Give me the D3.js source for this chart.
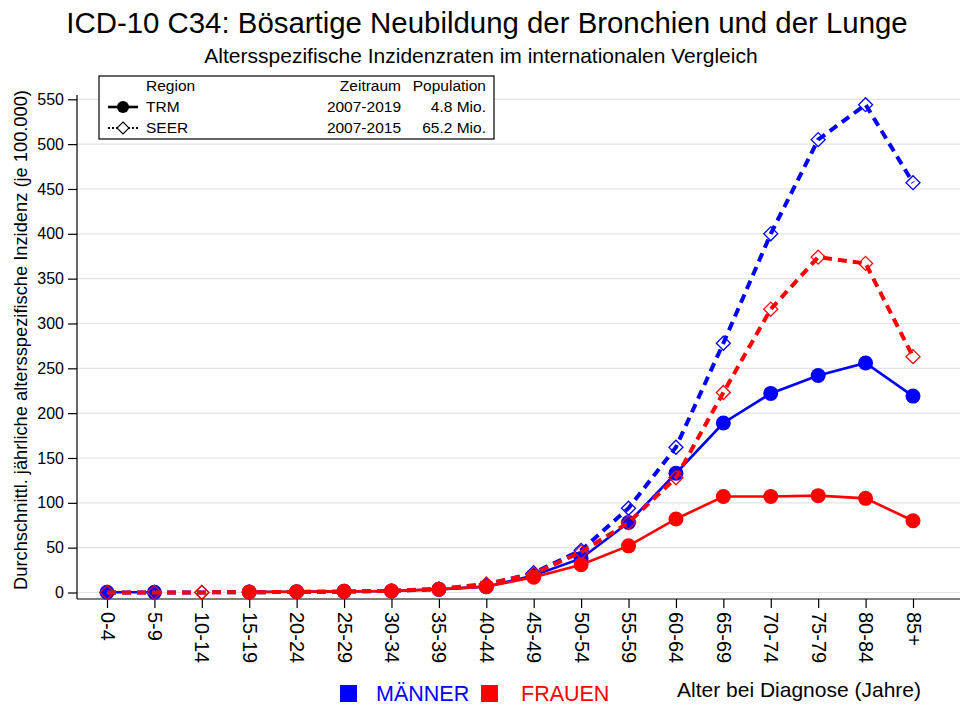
<!DOCTYPE html>
<html>
<head>
<meta charset="utf-8">
<script src="https://cdn.jsdelivr.net/npm/d3@7"></script>
<style>
  body { margin: 0; background: #fff; }
  svg { display: block; font-family: Arial, "Liberation Sans", sans-serif; }
</style>
</head>
<body>
<svg id="chart" width="960" height="709"></svg>
<script>
const ageGroups = ['0-4', '5-9', '10-14', '15-19', '20-24', '25-29', '30-34', '35-39', '40-44',
  '45-49', '50-54', '55-59', '60-64', '65-69', '70-74', '75-79', '80-84', '85+'];
const yTicks = [0, 50, 100, 150, 200, 250, 300, 350, 400, 450, 500, 550];

// TRM (solid, circles)
const trmMaenner = [0.3, 0.3, null, 0.5, 0.9, 1.3, 1.7, 3.5, 6.5, 19, 38, 78, 133, 189, 222, 242, 256, 219];
const trmFrauen = [null, null, null, 0.5, 0.9, 1.3, 1.7, 3.6, 6.5, 17, 31, 52, 82, 107, 107, 108, 105, 80];
// SEER (dashed, diamonds)
const seerMaenner = [0.1, 0.1, 0.1, 0.3, 0.6, 1.0, 1.8, 3.8, 8.5, 22, 47, 94, 162, 278, 400, 505, 544, 457];
const seerFrauen = [0.1, 0.1, 0.1, 0.3, 0.6, 1.1, 1.9, 4.0, 9.5, 21, 45, 78, 128, 223, 316, 374, 367, 263];

const BLUE = '#0000ff', RED = '#ff0000';

const svg = d3.select('#chart');
const margin = { left: 77, right: 0, top: 95, bottom: 599 };

const x = d3.scalePoint().domain(ageGroups).range([107, 913]);
const y = d3.scaleLinear().domain([0, 550]).range([592.5, 99.3]);

// grid
svg.append('g').selectAll('line').data(yTicks).enter().append('line')
  .attr('x1', margin.left).attr('x2', 960)
  .attr('y1', d => y(d)).attr('y2', d => y(d))
  .attr('stroke', '#e3e3e3').attr('stroke-width', 1.2);

// axes
const yAxis = svg.append('g').attr('transform', `translate(${margin.left},0)`)
  .call(d3.axisLeft(y).tickValues(yTicks).tickSize(9).tickPadding(4));
yAxis.select('.domain').attr('d', `M0,${margin.top}V${margin.bottom}`).attr('stroke', '#000').attr('stroke-width', 1.2);
yAxis.selectAll('.tick line').attr('stroke', '#000').attr('stroke-width', 1.2);
yAxis.selectAll('.tick text').attr('font-size', 16).attr('fill', '#000')
  .attr('font-family', 'Arial, "Liberation Sans", sans-serif');

const xAxis = svg.append('g').attr('transform', `translate(0,${margin.bottom})`)
  .call(d3.axisBottom(x).tickSize(9).tickPadding(0));
xAxis.select('.domain').attr('d', `M${margin.left},0H960`).attr('stroke', '#000').attr('stroke-width', 1.2);
xAxis.selectAll('.tick line').attr('stroke', '#000').attr('stroke-width', 1.2);
xAxis.selectAll('.tick text')
  .attr('font-size', 20).attr('fill', '#000')
  .attr('font-family', 'Arial, "Liberation Sans", sans-serif')
  .attr('text-anchor', 'start').attr('dy', null).attr('y', 0)
  .attr('transform', 'translate(-7,13) rotate(90)');

// series
const series = [
  { values: seerMaenner, color: BLUE, dashed: true },
  { values: trmMaenner, color: BLUE, dashed: false },
  { values: seerFrauen, color: RED, dashed: true },
  { values: trmFrauen, color: RED, dashed: false }
];

const line = d3.line()
  .defined(d => d.v != null)
  .x(d => x(d.a)).y(d => y(d.v));

const plot = svg.append('g');
series.forEach(s => {
  const pts = ageGroups.map((a, i) => ({ a, v: s.values[i] }));
  // SEER dashed line bridges gaps; TRM solid line breaks at missing values
  const data = s.dashed ? pts.filter(d => d.v != null) : pts;
  plot.append('path').datum(data)
    .attr('d', line)
    .attr('fill', 'none')
    .attr('stroke', s.color)
    .attr('stroke-width', s.dashed ? 4 : 2.6)
    .attr('stroke-dasharray', s.dashed ? '9,6' : null);
  const dots = plot.append('g').selectAll('g').data(pts.filter(d => d.v != null)).enter();
  if (s.dashed) {
    dots.append('path')
      .attr('d', 'M0,-7L7,0L0,7L-7,0Z')
      .attr('transform', d => `translate(${x(d.a)},${y(d.v)})`)
      .attr('fill', 'none').attr('stroke', s.color).attr('stroke-width', 1.3);
  } else {
    dots.append('circle')
      .attr('cx', d => x(d.a)).attr('cy', d => y(d.v)).attr('r', 7.5)
      .attr('fill', s.color);
  }
});

// titles
svg.append('text').attr('x', 487).attr('y', 33).attr('text-anchor', 'middle')
  .attr('font-size', 29.4).attr('fill', '#000')
  .text('ICD-10 C34: Bösartige Neubildung der Bronchien und der Lunge');
svg.append('text').attr('x', 481).attr('y', 63).attr('text-anchor', 'middle')
  .attr('font-size', 21).attr('fill', '#000')
  .text('Altersspezifische Inzidenzraten im internationalen Vergleich');

svg.append('text')
  .attr('transform', 'translate(27,340) rotate(-90)')
  .attr('text-anchor', 'middle').attr('font-size', 18.3).attr('fill', '#000')
  .text('Durchschnittl. jährliche altersspezifische Inzidenz (je 100.000)');

// top legend box
const legend = svg.append('g');
legend.append('rect').attr('x', 99).attr('y', 76).attr('width', 395).attr('height', 63)
  .attr('fill', '#fff').attr('stroke', '#000').attr('stroke-width', 1.2);
const legRows = [
  { region: 'Region', period: 'Zeitraum', pop: 'Population', y: 91 },
  { region: 'TRM', period: '2007-2019', pop: '4.8 Mio.', y: 112, dashed: false },
  { region: 'SEER', period: '2007-2015', pop: '65.2 Mio.', y: 133, dashed: true }
];
legRows.forEach((r, i) => {
  const t = legend.append('g').attr('font-size', 15.5).attr('fill', '#000');
  t.append('text').attr('x', 146).attr('y', r.y).text(r.region);
  t.append('text').attr('x', 401).attr('y', r.y).attr('text-anchor', 'end').text(r.period);
  t.append('text').attr('x', 486).attr('y', r.y).attr('text-anchor', 'end').text(r.pop);
  if (i === 0) return;
  const cy = r.y - 5;
  legend.append('line').attr('x1', 108).attr('x2', 138).attr('y1', cy).attr('y2', cy)
    .attr('stroke', '#000').attr('stroke-width', r.dashed ? 2 : 2.6)
    .attr('stroke-dasharray', r.dashed ? '2,2' : null);
  if (r.dashed) {
    legend.append('path').attr('d', 'M0,-6L6,0L0,6L-6,0Z')
      .attr('transform', `translate(123,${cy})`)
      .attr('fill', '#fff').attr('stroke', '#000').attr('stroke-width', 1.1);
  } else {
    legend.append('circle').attr('cx', 123).attr('cy', cy).attr('r', 6).attr('fill', '#000');
  }
});

// bottom legend
const sexes = [
  { label: 'MÄNNER', color: BLUE, sx: 340, tx: 376 },
  { label: 'FRAUEN', color: RED, sx: 481, tx: 521 }
];
sexes.forEach(s => {
  svg.append('rect').attr('x', s.sx).attr('y', 685).attr('width', 17).attr('height', 17).attr('fill', s.color);
  svg.append('text').attr('x', s.tx).attr('y', 701).attr('font-size', 21.5).attr('fill', s.color).text(s.label);
});
svg.append('text').attr('x', 921).attr('y', 697).attr('text-anchor', 'end')
  .attr('font-size', 21).attr('fill', '#000').text('Alter bei Diagnose (Jahre)');
</script>
</body>
</html>
